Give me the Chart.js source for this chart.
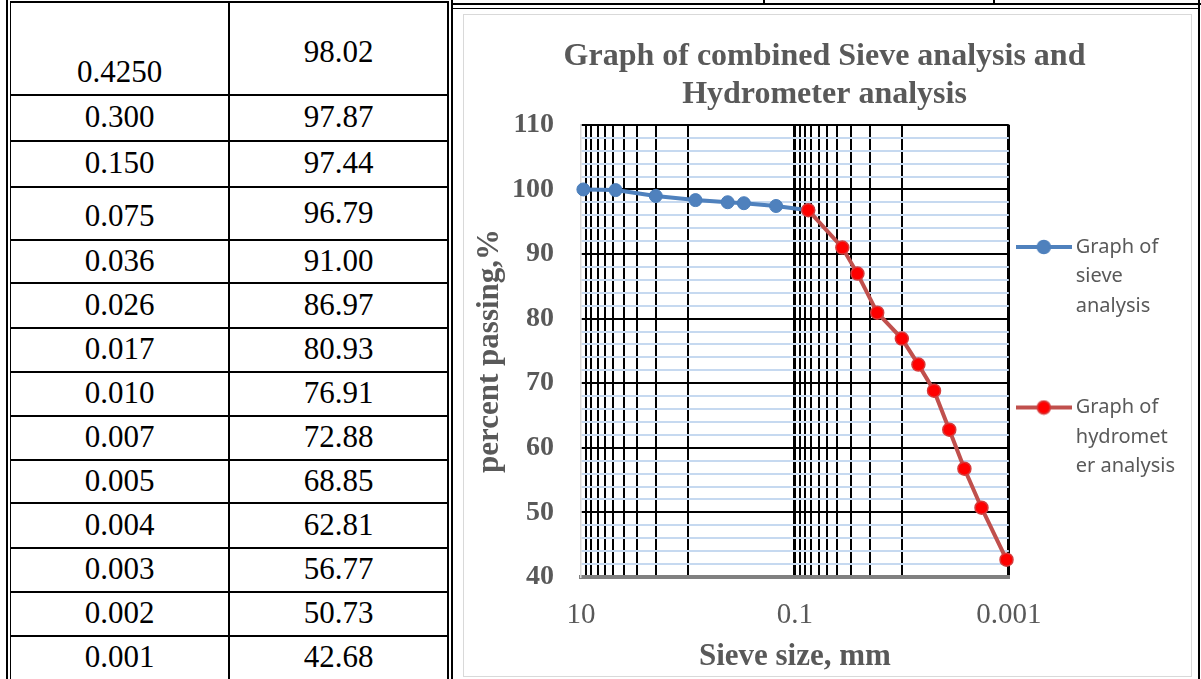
<!DOCTYPE html>
<html>
<head>
<meta charset="utf-8">
<title>Sieve and hydrometer analysis</title>
<script src="https://cdn.jsdelivr.net/npm/chart.js@4.4.1/dist/chart.umd.min.js"></script>
<style>
    html, body { margin: 0; padding: 0; background: #fff; }
    body { width: 1201px; height: 679px; position: relative; overflow: hidden; }
    .rule { position: absolute; background: #000; }
    #sheet { position: absolute; left: 10px; top: 1px; width: 439px; border-left: 1.5px solid #000; border-right: 2px solid #000; box-sizing: border-box; font-family: 'Liberation Serif', 'Times New Roman', serif; font-size: 31px; color: #000; }
    .row { display: flex; border-top: 2px solid #000; box-sizing: border-box; }
    .cell { display: flex; align-items: center; justify-content: center; box-sizing: border-box; }
    .cell.size { width: 219px; border-right: 2px solid #000; }
    .cell.pass { flex: 1; }
    #chartBox { position: absolute; left: 463px; top: 14px; width: 729px; height: 663px; border: 1px solid #d9d9d9; box-sizing: border-box; }
    #chartCanvas { position: absolute; left: 464px; top: 15px; }
</style>
</head>
<body>
<div class="rule" style="left:6px; top:0; width:1.5px; height:679px;"></div>
<div id="sheet"></div>
<div class="rule" style="left:451px; top:0; width:2px; height:679px;"></div>
<div class="rule" style="left:451px; top:2.5px; width:750px; height:2px;"></div>
<div class="rule" style="left:453px; top:7.5px; width:745px; height:1.5px;"></div>
<div class="rule" style="left:763px; top:0; width:1.5px; height:4px;"></div>
<div class="rule" style="left:993px; top:0; width:1.5px; height:4px;"></div>
<div class="rule" style="left:1197.5px; top:0; width:2px; height:679px;"></div>
<div id="chartBox"></div>
<canvas id="chartCanvas" width="727" height="661"></canvas>
<script>
// table printed next to the graph
const tableSizes = ['0.4250', '0.300', '0.150', '0.075', '0.036', '0.026', '0.017', '0.010', '0.007', '0.005', '0.004', '0.003', '0.002', '0.001'];
const tablePassing = ['98.02', '97.87', '97.44', '96.79', '91.00', '86.97', '80.93', '76.91', '72.88', '68.85', '62.81', '56.77', '50.73', '42.68'];

// plotted series (sieve size mm, percent passing)
const sieveSizes = [9.5, 4.75, 2.0, 0.85, 0.425, 0.3, 0.15, 0.075];
const sievePassing = [100, 99.9, 98.99, 98.35, 98.02, 97.87, 97.44, 96.79];
const hydroSizes = [0.075, 0.036, 0.026, 0.017, 0.010, 0.007, 0.005, 0.0036, 0.0026, 0.0018, 0.00105];
const hydroPassing = [96.79, 91.00, 86.97, 80.93, 76.91, 72.88, 68.85, 62.81, 56.77, 50.73, 42.68];

// axis ticks
const xMajorTicks = [10, 0.1, 0.001];
const xMajorLabels = ['10', '0.1', '0.001'];
const xMinorTicks = [9, 8, 7, 6, 5, 4, 3, 2, 1, 0.09, 0.08, 0.07, 0.06, 0.05, 0.04, 0.03, 0.02, 0.01];
const yMin = 40;
const yMax = 110;
const yMajorStep = 10;
const yMinorStep = 2;

const seriesNames = [['Graph of', 'sieve', 'analysis'], ['Graph of', 'hydromet', 'er analysis']];

const SERIF = "'Liberation Serif', 'Times New Roman', serif";
const GREY_TEXT = '#595959';
const BLUE = '#4F81BD';
const DARK_RED = '#C0504D';
const RED = '#FF0000';

// row heights of the table, px
const rowHeights = [93, 46, 46, 53, 43, 45, 44, 44, 44, 43, 45, 44, 44, 44];
const rowShift = {0: [23, 3], 3: [2, -1]};

const buildTable = () =>
{
    const sheet = document.getElementById('sheet');
    tableSizes.forEach((size, i) =>
    {
        const row = document.createElement('div');
        row.className = 'row';
        row.style.height = rowHeights[i] + 'px';

        const shift = rowShift[i] || [-1, -1];
        const left = document.createElement('div');
        left.className = 'cell size';
        left.innerHTML = '<span style="position:relative; top:' + shift[0] + 'px">' + size + '</span>';

        const right = document.createElement('div');
        right.className = 'cell pass';
        right.innerHTML = '<span style="position:relative; top:' + shift[1] + 'px">' + tablePassing[i] + '</span>';

        row.appendChild(left);
        row.appendChild(right);
        sheet.appendChild(row);
    });
};

// small line-with-marker picture used as legend symbol
const legendIcon = (lineColor, fillColor, edgeColor) =>
{
    const icon = document.createElement('canvas');
    icon.width = 56;
    icon.height = 16;
    const ctx = icon.getContext('2d');
    ctx.strokeStyle = lineColor;
    ctx.lineWidth = 4;
    ctx.beginPath();
    ctx.moveTo(0, 8);
    ctx.lineTo(56, 8);
    ctx.stroke();
    ctx.beginPath();
    ctx.arc(28, 8, 6.5, 0, Math.PI * 2);
    ctx.fillStyle = fillColor;
    ctx.fill();
    ctx.lineWidth = 1.5;
    ctx.strokeStyle = edgeColor;
    ctx.stroke();
    return icon;
};

const toPoints = (xs, ys) => xs.map((x, i) => ({x: x, y: ys[i]}));

buildTable();

const legendIcons = [legendIcon(BLUE, BLUE, BLUE), legendIcon(DARK_RED, RED, '#D63A3A')];
// blank lines keep the two legend entries apart like in the original
const legendText = [seriesNames[0].concat(['', '']), seriesNames[1].concat(['', '', '', '', '', ''])];

const xTickValues = xMajorTicks.concat(xMinorTicks).sort((a, b) => b - a);

const chart = new Chart(document.getElementById('chartCanvas'), {
    type: 'scatter',
    data: {
        datasets: [
            {
                label: 'Graph of sieve analysis',
                data: toPoints(sieveSizes, sievePassing),
                showLine: true,
                borderColor: BLUE,
                backgroundColor: BLUE,
                borderWidth: 4,
                pointRadius: 6.5,
                pointHoverRadius: 6.5,
                pointBackgroundColor: BLUE,
                pointBorderColor: '#4A7EBB',
                pointBorderWidth: 1,
                clip: false,
                order: 1,
            },
            {
                label: 'Graph of hydrometer analysis',
                data: toPoints(hydroSizes, hydroPassing),
                showLine: true,
                borderColor: DARK_RED,
                backgroundColor: RED,
                borderWidth: 4,
                pointRadius: 6.5,
                pointHoverRadius: 6.5,
                pointBackgroundColor: RED,
                pointBorderColor: '#D63A3A',
                pointBorderWidth: 1.5,
                clip: false,
                order: 0,
            }
        ]
    },
    options: {
        responsive: false,
        animation: false,
        layout: {padding: {right: 6}},
        plugins: {
            tooltip: {enabled: false},
            title: {
                display: true,
                text: ['Graph of combined Sieve analysis and', 'Hydrometer analysis'],
                color: GREY_TEXT,
                font: {family: SERIF, size: 32, weight: 'bold', lineHeight: 1.19},
                padding: {top: 23, bottom: 10.7},
            },
            legend: {
                position: 'right',
                align: 'end',
                labels: {
                    usePointStyle: true,
                    pointStyleWidth: 44,
                    padding: 13,
                    color: GREY_TEXT,
                    font: {family: "'Noto Sans', sans-serif", size: 20, lineHeight: 1.475},
                    generateLabels: (c) => c.data.datasets.map((ds, i) => ({
                        text: legendText[i],
                        fontColor: GREY_TEXT,
                        fillStyle: ds.backgroundColor,
                        strokeStyle: ds.borderColor,
                        lineWidth: 0,
                        pointStyle: legendIcons[i],
                        hidden: false,
                        datasetIndex: i,
                    })),
                },
            },
        },
        scales: {
            x: {
                type: 'logarithmic',
                reverse: true,
                min: 0.001,
                max: 10,
                afterBuildTicks: (scale) =>
                {
                    scale.ticks = xTickValues.map((v) => ({value: v}));
                },
                ticks: {
                    autoSkip: false,
                    maxRotation: 0,
                    padding: 21,
                    color: GREY_TEXT,
                    font: {family: SERIF, size: 29, lineHeight: 1.2},
                    callback: (value) =>
                    {
                        const k = xMajorTicks.indexOf(value);
                        return k === -1 ? '' : xMajorLabels[k];
                    },
                },
                grid: {
                    drawTicks: false,
                    color: (ctx) => ctx.tick && ctx.tick.value === 10 ? 'rgba(0,0,0,0)' : '#000',
                    lineWidth: (ctx) => ctx.tick && (ctx.tick.value === 0.1 || ctx.tick.value === 0.001) ? 3 : 2,
                },
                border: {display: true, color: '#808080', width: 4},
                title: {
                    display: true,
                    text: 'Sieve size, mm',
                    color: GREY_TEXT,
                    font: {family: SERIF, size: 31, weight: 'bold', lineHeight: 1.2},
                    padding: {top: -15, bottom: 0},
                },
            },
            y: {
                // drawn first so the black verticals sit on top of the blue minor lines
                z: -1,
                min: yMin,
                max: yMax,
                ticks: {
                    stepSize: yMinorStep,
                    autoSkip: false,
                    padding: 27,
                    color: GREY_TEXT,
                    font: {family: SERIF, size: 28, weight: 'bold', lineHeight: 1},
                    callback: (value) => value % yMajorStep === 0 ? String(value) : '',
                },
                grid: {
                    drawTicks: false,
                    color: (ctx) =>
                    {
                        const v = ctx.tick ? ctx.tick.value : 0;
                        if (v === yMin) return 'rgba(0,0,0,0)';
                        return v % yMajorStep === 0 ? '#000' : '#C6D9F0';
                    },
                    lineWidth: 2,
                },
                border: {display: true, color: '#D9D9D9', width: 1.5},
                title: {
                    display: true,
                    text: 'percent passing,%',
                    color: GREY_TEXT,
                    font: {family: SERIF, size: 31, weight: 'bold', lineHeight: 1.2},
                    padding: {top: 7.4, bottom: -23.6},
                },
            },
        },
    },
});
</script>
</body>
</html>
